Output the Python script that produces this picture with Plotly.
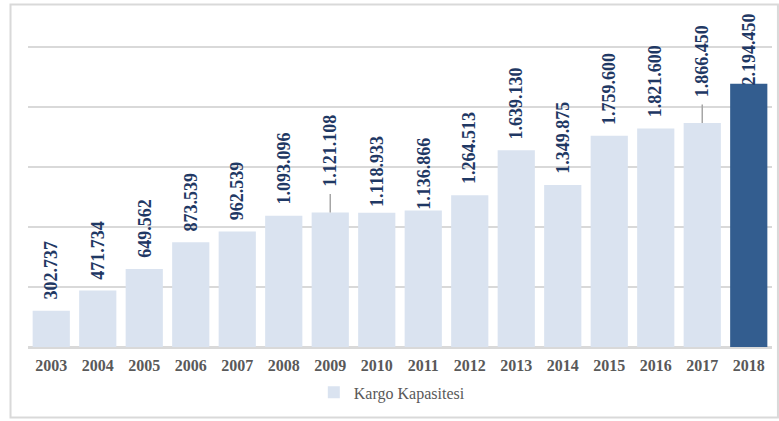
import plotly.graph_objects as go

years = ["2003", "2004", "2005", "2006", "2007", "2008", "2009", "2010",
         "2011", "2012", "2013", "2014", "2015", "2016", "2017", "2018"]
capacity = [302737, 471734, 649562, 873539, 962539, 1093096, 1121108, 1118933,
            1136866, 1264513, 1639130, 1349875, 1759600, 1821600, 1866450, 2194450]
series_name = "Kargo Kapasitesi"

# styling (not data)
light = "#DAE3F0"
dark = "#335D8F"
label_color = "#1F3864"
serif = "Liberation Serif, Times New Roman, serif"
leader_len = {"2009": 20, "2017": 20}
label_shift = {"2010": 4, "2011": -1, "2018": -4}
default_shift = 9

colors = [light] * (len(years) - 1) + [dark]

def fmt(v):
    return f"{v:,}".replace(",", ".")

fig = go.Figure()
fig.add_trace(go.Bar(
    x=years, y=capacity, name=series_name,
    marker=dict(color=colors, line=dict(width=0)),
    showlegend=True,
))

annotations = []
for i, (yr, v) in enumerate(zip(years, capacity)):
    txt = "<b>" + fmt(v) + "</b>"
    shift = label_shift.get(yr, default_shift)
    if yr in leader_len:
        L = leader_len[yr]
        annotations.append(dict(
            x=i, y=v, text="", showarrow=True, ax=0, ay=-L,
            arrowhead=0, arrowwidth=1.5, arrowcolor="#A6A6A6", standoff=0,
        ))
        shift = L + 4
    annotations.append(dict(
        x=i, y=v, text=txt, textangle=-90, showarrow=False,
        yanchor="bottom", xanchor="center", yshift=shift,
        font=dict(family=serif, size=18, color=label_color),
    ))

fig.update_layout(
    width=779, height=421,
    margin=dict(l=28, r=7, t=44, b=74),
    paper_bgcolor="white", plot_bgcolor="white",
    bargap=0.2,
    annotations=annotations,
    xaxis=dict(
        type="category", range=[-0.5, len(years) - 0.5], autorange=False,
        showgrid=False, showline=True, linecolor="#D9D9D9",
        linewidth=1.5, ticks="", ticklabelstandoff=3,
        tickfont=dict(family=serif, size=16, color="#595959", weight="bold"),
    ),
    yaxis=dict(
        range=[0, 2525000], autorange=False, dtick=500000, showticklabels=False,
        showgrid=True, gridcolor="#D9D9D9", gridwidth=1.5,
        zeroline=True, zerolinecolor="#D9D9D9", zerolinewidth=1.5,
    ),
    showlegend=True,
    legend=dict(orientation="h", x=0.489, xanchor="center", y=-0.15, yanchor="middle",
                font=dict(family=serif, size=16, color="#595959")),
    shapes=[dict(type="rect", xref="paper", yref="paper",
                 x0=-0.0235, x1=1.008, y0=-0.233, y1=1.13,
                 line=dict(color="#D9D9D9", width=2), layer="below")],
)

fig.write_html("out.html")
